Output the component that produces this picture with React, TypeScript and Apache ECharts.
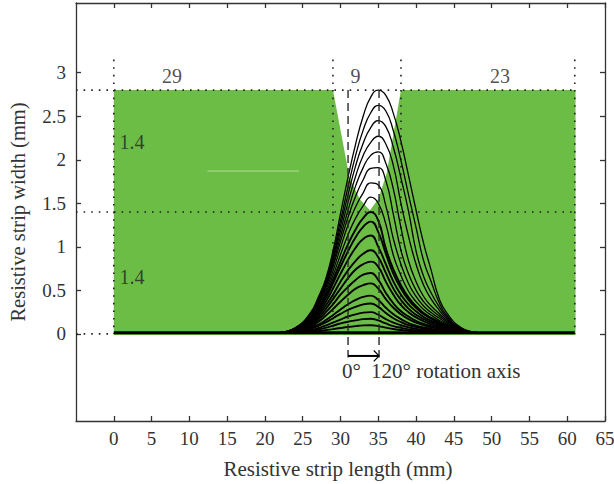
import React, { useEffect, useRef } from "react";
import * as echarts from "echarts";

const xTicks = [0, 5, 10, 15, 20, 25, 30, 35, 40, 45, 50, 55, 60, 65];
const yTicks = [0, 0.5, 1, 1.5, 2, 2.5, 3];
const stripOutline = [[0, 2.8], [29, 2.8], [31.2, 1.79], [32.6, 1.54], [33.9, 1.42], [35, 1.55], [36.1, 1.84], [38, 2.8], [61.1, 2.8], [61.1, 2.8]];
const curveXs = [22, 24, 26, 27, 28, 29, 30, 31, 32, 33, 34, 35, 36, 37, 38, 39, 40, 41, 42, 43, 44, 46, 48];
const curve01 = [.018, .07, .24, .41, .62, .95, 1.38, 1.80, 2.18, 2.50, 2.72, 2.80, 2.74, 2.53, 2.21, 1.82, 1.42, 1.04, .73, .42, .25, .07, .02];
const curve02 = [.018, .068, .23, .39, .60, .91, 1.30, 1.69, 2.05, 2.34, 2.54, 2.625, 2.56, 2.33, 1.99, 1.60, 1.22, .84, .60, .37, .22, .06, .02];
const curve03 = [.017, .066, .22, .375, .58, .87, 1.24, 1.60, 1.93, 2.19, 2.37, 2.45, 2.38, 2.14, 1.79, 1.41, .95, .66, .47, .32, .20, .055, .018];
const curve04 = [.017, .064, .21, .36, .56, .84, 1.18, 1.51, 1.81, 2.05, 2.20, 2.27, 2.18, 1.93, 1.50, 1.12, .80, .56, .40, .28, .18, .05, .016];
const curve05 = [.017, .062, .20, .345, .54, .80, 1.12, 1.42, 1.70, 1.91, 2.05, 2.09, 1.96, 1.66, 1.22, .84, .60, .43, .32, .24, .16, .045, .015];
const curve06 = [.016, .06, .19, .33, .52, .77, 1.06, 1.34, 1.58, 1.77, 1.90, 1.91, 1.76, 1.37, .96, .69, .50, .37, .28, .21, .145, .04, .014];
const curve07 = [.016, .058, .18, .31, .49, .72, .99, 1.25, 1.46, 1.62, 1.735, 1.71, 1.47, 1.09, .80, .58, .43, .32, .245, .185, .13, .035, .014];
const curve08 = [.016, .055, .17, .29, .46, .67, .91, 1.14, 1.33, 1.47, 1.57, 1.50, 1.26, .90, .67, .49, .37, .28, .215, .16, .115, .032, .014];
const curve09 = [.016, .052, .16, .27, .43, .62, .83, 1.03, 1.20, 1.33, 1.40, 1.30, .98, .74, .56, .42, .32, .24, .185, .14, .10, .03, .014];
const curve10 = [.015, .05, .15, .255, .40, .58, .77, .95, 1.11, 1.23, 1.29, 1.17, .92, .69, .52, .39, .30, .225, .175, .13, .095, .03, .014];
const curve11 = [.015, .046, .135, .23, .36, .52, .69, .85, .99, 1.09, 1.13, 1.00, .80, .60, .45, .34, .26, .195, .15, .115, .085, .027, .014];
const curve12 = [.015, .042, .12, .205, .32, .45, .60, .73, .84, .92, .96, .88, .70, .52, .39, .29, .22, .17, .13, .10, .075, .025, .014];
const curve13 = [.015, .038, .11, .18, .28, .40, .52, .64, .74, .80, .83, .77, .60, .45, .33, .25, .19, .145, .11, .085, .065, .022, .014];
const curve14 = [.015, .036, .10, .16, .245, .34, .45, .54, .62, .68, .70, .62, .47, .35, .26, .20, .15, .115, .09, .07, .052, .02, .014];
const curve15 = [.015, .032, .085, .135, .205, .285, .37, .45, .52, .56, .58, .52, .40, .30, .225, .17, .13, .10, .075, .058, .044, .018, .014];
const curve16 = [.015, .027, .07, .105, .155, .215, .28, .34, .39, .425, .44, .39, .30, .225, .17, .125, .095, .075, .058, .045, .034, .017, .014];
const curve17 = [.015, .024, .06, .09, .13, .18, .23, .275, .31, .34, .35, .31, .24, .18, .135, .10, .08, .06, .047, .036, .028, .016, .014];
const curve18 = [.014, .02, .045, .065, .095, .13, .165, .20, .225, .245, .25, .22, .17, .13, .10, .075, .058, .045, .036, .028, .023, .015, .014];
const curve19 = [.014, .018, .035, .05, .07, .095, .12, .14, .155, .17, .175, .155, .12, .09, .07, .052, .04, .032, .026, .022, .018, .014, .014];
const curve20 = [.014, .016, .024, .032, .042, .055, .068, .08, .09, .098, .10, .09, .072, .056, .045, .036, .03, .025, .022, .019, .017, .014, .014];
const curves = [curve01, curve02, curve03, curve04, curve05, curve06, curve07, curve08, curve09, curve10, curve11, curve12, curve13, curve14, curve15, curve16, curve17, curve18, curve19, curve20];
const baseline = [[0, 0.014], [61, 0.014]];
const paleStreak = [[12.4, 1.87], [24.5, 1.87]];
const dottedLines = [
  [[-5, 2.8], [61, 2.8]],
  [[-5, 1.4], [61, 1.4]],
  [[-5, 0], [0, 0]],
  [[0, 3.15], [0, 0]],
  [[29, 3.15], [29, 0]],
  [[38, 3.15], [38, 0]],
  [[61, 3.15], [61, 0]],
];
const dashedLines = [
  [[31, 2.8], [31, -0.27]],
  [[35.1, 2.8], [35.1, -0.27]],
];
const rotationArrow = [[31, -0.253], [35.1, -0.253]];
const arrowHead = [[34.4, -0.19], [35.1, -0.253], [34.4, -0.316]];
const annotations: [string, number, number][] = [
  ["29", 7.7, 2.96],
  ["9", 32, 2.96],
  ["23", 51.1, 2.96],
  ["1.4", 2.4, 2.2],
  ["1.4", 2.4, 0.65],
];

const font = "'Liberation Serif', 'Times New Roman', serif";
const ink = "#333333";

export default function App() {
  const ref = useRef<HTMLDivElement>(null);
  useEffect(() => {
    document.body.style.margin = "0";
    const chart = echarts.init(ref.current!, null, { renderer: "svg" });
    const plain = (data: number[][], color: string, width: number, z: number, extra: any = {}) => ({
      type: "line", data, symbol: "none", silent: true, z, clip: false,
      lineStyle: { color, width, ...extra },
    });
    const series: any[] = [
      {
        type: "line", data: stripOutline, symbol: "none", silent: true, z: 1,
        lineStyle: { width: 0 },
        areaStyle: { color: "#6CBD45", opacity: 1, origin: -0.012 },
      },
      plain(paleStreak, "#B5DC9A", 1, 2),
      ...dottedLines.map((d) => plain(d, "#222222", 1.6, 3, { type: [1.6, 6] })),
      ...curves.map((c, i) => ({
        type: "line", data: curveXs.map((x, k) => [x, c[k]]), symbol: "none", silent: true, z: 4,
        smooth: 0.5,
        lineStyle: { color: "#000000", width: i >= 8 ? 1.9 : 1.3 },
      })),
      plain(baseline, "#000000", 3, 5),
      ...dashedLines.map((d) => plain(d, "#2a2a2a", 1.4, 6, { type: [8, 5] })),
      plain(rotationArrow, "#000000", 2, 7),
      plain(arrowHead, "#000000", 1.2, 7),
      {
        type: "scatter", data: annotations.map((a) => [a[1], a[2]]), symbolSize: 0, silent: true, z: 8,
        label: {
          show: true, position: "inside", color: "#222222", fontFamily: font, fontSize: 20,
          formatter: (p: any) => annotations[p.dataIndex][0],
        },
      },
    ];
    const xBase = {
      type: "value", min: -5, max: 65, interval: 5, splitLine: { show: false },
      axisLine: { onZero: false, lineStyle: { color: ink, width: 1.3 } },
      axisTick: { show: true, inside: true, length: 5, customValues: xTicks, lineStyle: { color: ink, width: 1.3 } },
    };
    const yBase = {
      type: "value", min: -1, max: 3.8, interval: 0.5, splitLine: { show: false },
      axisLine: { onZero: false, lineStyle: { color: ink, width: 1.3 } },
      axisTick: { show: true, inside: true, length: 5, customValues: yTicks, lineStyle: { color: ink, width: 1.3 } },
    };
    chart.setOption({
      animation: false,
      grid: { left: 76, right: 9, top: 3, bottom: 63, containLabel: false, outerBoundsMode: "none" },
      xAxis: [
        {
          ...xBase, position: "bottom", name: "Resistive strip length (mm)", nameLocation: "middle", nameGap: 37,
          nameTextStyle: { color: ink, fontFamily: font, fontSize: 21, padding: [0, 5, 0, 0] },
          axisLabel: { show: true, customValues: xTicks, color: ink, fontFamily: font, fontSize: 19, margin: 8, hideOverlap: false },
        },
        { ...xBase, position: "top", axisLabel: { show: false } },
      ],
      yAxis: [
        {
          ...yBase, position: "left", name: "Resistive strip width (mm)", nameLocation: "middle", nameGap: 48,
          nameTextStyle: { color: ink, fontFamily: font, fontSize: 20.5 },
          axisLabel: { show: true, customValues: yTicks, color: ink, fontFamily: font, fontSize: 19, margin: 10, hideOverlap: false },
        },
        { ...yBase, position: "right", axisLabel: { show: false } },
      ],
      series,
      graphic: [
        { type: "text", x: 342, y: 360, silent: true, style: { text: "0°", fill: ink, font: `21px ${font}` }, z: 10 },
        { type: "text", x: 371, y: 360, silent: true, style: { text: "120° rotation axis", fill: ink, font: `21px ${font}` }, z: 10 },
      ],
    });
    return () => chart.dispose();
  }, []);
  return <div ref={ref} style={{ width: 614, height: 484 }} />;
}
